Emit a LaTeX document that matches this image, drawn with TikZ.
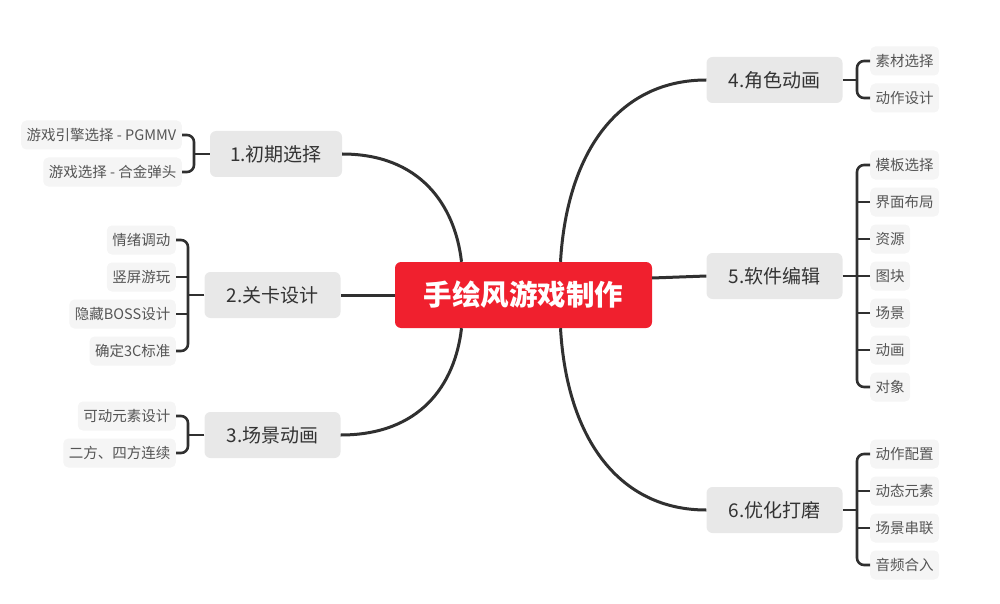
\documentclass[tikz,border=0pt]{standalone}
\usepackage{fontspec}
\newfontfamily\cjk{Noto Sans CJK SC}
\usetikzlibrary{calc}
\definecolor{cred}{RGB}{240,32,46}
\definecolor{mainbg}{RGB}{232,232,232}
\definecolor{subbg}{RGB}{245,245,245}
\definecolor{maintx}{RGB}{51,51,51}
\definecolor{subtx}{RGB}{85,85,85}
\definecolor{linec}{RGB}{48,48,48}
\tikzset{
  central/.style={fill=cred,rounded corners=6pt,minimum width=257pt,minimum height=66pt,text=white,font=\cjk\bfseries\fontsize{28.5}{31}\selectfont},
  topic/.style={fill=mainbg,rounded corners=6pt,minimum width=136pt,minimum height=46pt,text=maintx,font=\cjk\fontsize{19}{21}\selectfont},
  subt/.style={fill=subbg,rounded corners=5pt,minimum height=29pt,inner xsep=5.5pt,text=subtx,font=\cjk\fontsize{14.5}{16}\selectfont},
  conn/.style={draw=linec,line width=3pt},
  brk/.style={draw=linec,line width=2.6pt,rounded corners=7pt}
}
\begin{document}
\begin{tikzpicture}[x=1pt,y=-1pt]
\useasboundingbox (0,0) rectangle (1000,604);
\node[central] (c) at (523.5,295) {手绘风游戏制作};
\node[topic,minimum width=132pt] (t1) at (276,154) {1.初期选择};
\node[topic] (t2) at (272.5,295) {2.关卡设计};
\node[topic] (t3) at (272.5,435) {3.场景动画};
\node[topic] (t4) at (774.5,80) {4.角色动画};
\node[topic] (t5) at (774.5,276) {5.软件编辑};
\node[topic] (t6) at (774.5,510) {6.优化打磨};
% left subtopics
\node[subt,anchor=east] (s11) at (182,135) {游戏引擎选择 - PGMMV};
\node[subt,anchor=east] (s12) at (182,172) {游戏选择 - 合金弹头};
\node[subt,anchor=east] (s21) at (176,240) {情绪调动};
\node[subt,anchor=east] (s22) at (176,277) {竖屏游玩};
\node[subt,anchor=east] (s23) at (176,314) {隐藏BOSS设计};
\node[subt,anchor=east] (s24) at (176,351) {确定3C标准};
\node[subt,anchor=east] (s31) at (176,416) {可动元素设计};
\node[subt,anchor=east] (s32) at (176,453) {二方、四方连续};
% right subtopics
\node[subt,anchor=west] (s41) at (870,61) {素材选择};
\node[subt,anchor=west] (s42) at (870,98) {动作设计};
\node[subt,anchor=west] (s51) at (870,165) {模板选择};
\node[subt,anchor=west] (s52) at (870,202) {界面布局};
\node[subt,anchor=west] (s53) at (870,239) {资源};
\node[subt,anchor=west] (s54) at (870,276) {图块};
\node[subt,anchor=west] (s55) at (870,313) {场景};
\node[subt,anchor=west] (s56) at (870,350) {动画};
\node[subt,anchor=west] (s57) at (870,387) {对象};
\node[subt,anchor=west] (s61) at (870,454) {动作配置};
\node[subt,anchor=west] (s62) at (870,491) {动态元素};
\node[subt,anchor=west] (s63) at (870,528) {场景串联};
\node[subt,anchor=west] (s64) at (870,565) {音频合入};
% central connectors
\draw[conn] ([xshift=-62pt]c.north) .. controls (455,205) and (420,154) .. (t1.east);
\draw[conn] (c.west) -- (t2.east);
\draw[conn] ([xshift=-62pt]c.south) .. controls (455,385) and (420,435) .. (t3.east);
\draw[conn] ([xshift=37pt]c.north) .. controls (567,150) and (620,80) .. (t4.west);
\draw[conn] ([yshift=17pt]c.east) .. controls (680,277) .. (t5.west);
\draw[conn] ([xshift=37pt]c.south) .. controls (567,440) and (620,510) .. (t6.west);
% brackets
\coordinate (b1) at (194,154);
\draw[brk] (s11.east) -| (b1) |- (s12.east);
\draw[brk] (t1.west) -- (b1);
\coordinate (b2) at (188,295);
\draw[brk] (s21.east) -| (b2) |- (s24.east);
\draw[brk] (s22.east) -- (s22.east -| b2);
\draw[brk] (s23.east) -- (s23.east -| b2);
\draw[brk] (t2.west) -- (b2);
\coordinate (b3) at (188,435);
\draw[brk] (s31.east) -| (b3) |- (s32.east);
\draw[brk] (t3.west) -- (b3);
\coordinate (b4) at (857,80);
\draw[brk] (s41.west) -| (b4) |- (s42.west);
\draw[brk] (t4.east) -- (b4);
\coordinate (b5) at (857,276);
\draw[brk] (s51.west) -| (b5) |- (s57.west);
\foreach \s in {s52,s53,s54,s55,s56} \draw[brk] (\s.west) -- (\s.west -| b5);
\draw[brk] (t5.east) -- (b5);
\coordinate (b6) at (857,510);
\draw[brk] (s61.west) -| (b6) |- (s64.west);
\draw[brk] (s62.west) -- (s62.west -| b6);
\draw[brk] (s63.west) -- (s63.west -| b6);
\draw[brk] (t6.east) -- (b6);
\end{tikzpicture}
\end{document}
